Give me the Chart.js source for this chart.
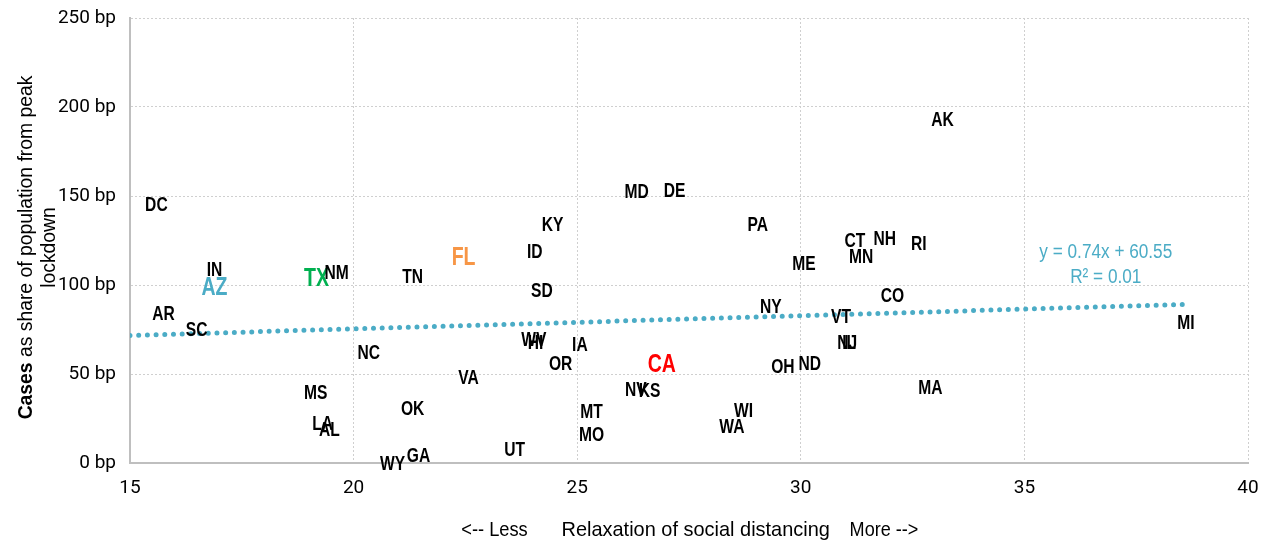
<!DOCTYPE html>
<html>
<head>
<meta charset="utf-8">
<script src="https://cdn.jsdelivr.net/npm/chart.js@4"></script>
<style>
  html, body { margin: 0; padding: 0; background: #fff; }
  #wrap { width: 1271px; height: 542px; }
</style>
</head>
<body>
<div id="wrap"><canvas id="chart" width="1271" height="542"></canvas></div>
<script>
const FONT = "'Liberation Sans', Arial, sans-serif";

// state abbreviations, x = relaxation of social distancing, y = cases (bp)
const states = ["DC","IN","AZ","AR","SC","TX","NM","TN","NC","MS","LA","AL","OK","WY","GA",
  "VA","FL","ID","KY","SD","WV","HI","UT","IA","OR","MT","MO","MD","DE","CA","NV","KS",
  "PA","NY","OH","ND","WI","WA","ME","CT","NH","MN","RI","VT","NJ","IL","CO","MA","MI","AK"];
const relaxation = [15.59,16.89,16.89,15.75,16.49,19.17,19.62,21.32,20.34,19.15,19.31,19.46,21.32,20.87,21.45,
  22.57,22.46,24.05,24.45,24.21,24.03,24.07,23.60,25.06,24.63,25.32,25.32,26.33,27.18,26.89,26.31,26.62,
  29.04,29.33,29.60,30.20,28.72,28.46,30.07,31.21,31.88,31.35,32.64,30.90,31.04,31.08,32.05,32.90,38.61,33.17];
const cases = [144.4,108.4,98.3,83.7,74.7,103.4,106.2,104.5,61.8,38.8,21.9,18.0,30.3,-1.1,3.9,
  47.2,115.2,118.0,133.7,96.1,69.1,66.9,7.3,66.3,55.6,28.1,15.7,151.7,152.8,55.1,41.0,40.4,
  133.7,87.6,53.4,55.6,28.7,19.7,111.8,124.7,125.3,115.7,122.5,82.0,67.4,67.0,93.8,42.1,78.1,192.7];

// highlighted states
const highlight = { AZ: "#4BACC6", TX: "#00B050", FL: "#F79646", CA: "#FF0000" };

// linear trend (y = 0.74x + 60.55)
const trendX = [15, 38.61];
const trendY = [71.65, 89.12];
const trendText = ["y = 0.74x + 60.55", "R\u00b2 = 0.01"];
const trendTextAt = [36.82, 111.5];

const xTicks = [15, 20, 25, 30, 35, 40];
const yTicks = [0, 50, 100, 150, 200, 250];

const TEAL = "#4BACC6";

// draw text squeezed horizontally, to get closer to the narrow font of the original
function narrowText(ctx, text, x, y, sx) {
  ctx.save();
  ctx.translate(x, y);
  ctx.scale(sx, 1);
  ctx.fillText(text, 0, 0);
  ctx.restore();
}

const labelPlugin = {
  id: "stateLabels",
  afterDatasetsDraw(chart) {
    const ctx = chart.ctx;
    const meta = chart.getDatasetMeta(0);
    ctx.save();
    ctx.textAlign = "center";
    ctx.textBaseline = "middle";
    meta.data.forEach((pt, i) => {
      const st = states[i];
      if (highlight[st]) {
        ctx.fillStyle = highlight[st];
        ctx.font = "bold 25px " + FONT;
      } else {
        ctx.fillStyle = "#000";
        ctx.font = "bold 20px " + FONT;
      }
      narrowText(ctx, st, pt.x, pt.y, 0.78);
    });

    // trendline equation
    const xs = chart.scales.x, ys = chart.scales.y;
    const ex = xs.getPixelForValue(trendTextAt[0]);
    const ey = ys.getPixelForValue(trendTextAt[1]);
    ctx.fillStyle = TEAL;
    ctx.font = "20px " + FONT;
    narrowText(ctx, trendText[0], ex, ey - 12, 0.86);
    narrowText(ctx, trendText[1], ex, ey + 13, 0.86);
    ctx.restore();
  }
};

const titlePlugin = {
  id: "axisTitles",
  afterDraw(chart) {
    const ctx = chart.ctx;
    const area = chart.chartArea;
    ctx.save();
    ctx.fillStyle = "#000";
    ctx.textBaseline = "middle";

    // y title, two lines, rotated, first word bold
    const cy = (area.top + area.bottom) / 2 + 7;
    ctx.translate(26, cy);
    ctx.rotate(-Math.PI / 2);
    const bold = "bold 21px " + FONT;
    const reg = "21px " + FONT;
    const w1 = "Cases", w2 = " as share of population from peak";
    ctx.font = bold;
    const bw = ctx.measureText(w1).width;
    ctx.font = reg;
    const rw = ctx.measureText(w2).width;
    ctx.scale(0.92, 1);
    const x0 = -(bw + rw) / 2;
    ctx.textAlign = "left";
    ctx.font = bold;
    ctx.fillText(w1, x0, 0);
    ctx.font = reg;
    ctx.fillText(w2, x0 + bw, 0);
    ctx.textAlign = "center";
    ctx.fillText("lockdown", 0, 23);
    ctx.restore();

    // x title
    ctx.save();
    ctx.fillStyle = "#000";
    ctx.font = "21px " + FONT;
    ctx.textAlign = "center";
    ctx.textBaseline = "middle";
    const ty = chart.height - 12;
    const xs = chart.scales.x;
    narrowText(ctx, "<-- Less", xs.getPixelForValue(23.15), ty, 0.87);
    narrowText(ctx, "Relaxation of social distancing", xs.getPixelForValue(27.65), ty, 0.95);
    narrowText(ctx, "More -->", xs.getPixelForValue(31.86), ty, 0.86);
    ctx.restore();
  }
};

new Chart(document.getElementById("chart"), {
  type: "scatter",
  data: {
    datasets: [
      {
        data: relaxation.map((x, i) => ({ x: x, y: cases[i] })),
        pointRadius: 0,
        pointHoverRadius: 0,
        showLine: false
      },
      {
        data: trendX.map((x, i) => ({ x: x, y: trendY[i] })),
        showLine: true,
        pointRadius: 0,
        borderColor: TEAL,
        borderWidth: 5,
        borderDash: [0, 8.7],
        borderCapStyle: "round",
        fill: false
      }
    ]
  },
  options: {
    responsive: false,
    animation: false,
    devicePixelRatio: 1,
    layout: { padding: { top: 18, right: 23, left: 0, bottom: 0 } },
    plugins: {
      legend: { display: false },
      tooltip: { enabled: false }
    },
    scales: {
      x: {
        type: "linear",
        min: 15,
        max: 40,
        afterBuildTicks: (s) => { s.ticks = xTicks.map(v => ({ value: v })); },
        afterFit: (s) => { s.height = 79; s.paddingLeft = 0; s.paddingRight = 0; },
        ticks: {
          color: "#000",
          font: { family: "Roboto, " + FONT, size: 19 },
          padding: 14
        },
        grid: {
          color: "#cfcfcf",
          lineWidth: 1,
          drawTicks: false
        },
        border: { color: "#bfbfbf", width: 2, dash: [2, 2] }
      },
      y: {
        type: "linear",
        min: 0,
        max: 250,
        afterBuildTicks: (s) => { s.ticks = yTicks.map(v => ({ value: v })); },
        afterFit: (s) => { s.width = 130; s.paddingTop = 0; s.paddingBottom = 0; },
        ticks: {
          color: "#000",
          font: { family: "Roboto, " + FONT, size: 19 },
          padding: 14,
          callback: (v) => v + " bp"
        },
        grid: {
          color: "#cfcfcf",
          lineWidth: 1,
          drawTicks: false
        },
        border: { color: "#bfbfbf", width: 2, dash: [2, 2] }
      }
    }
  },
  plugins: [labelPlugin, titlePlugin]
});
</script>
</body>
</html>
